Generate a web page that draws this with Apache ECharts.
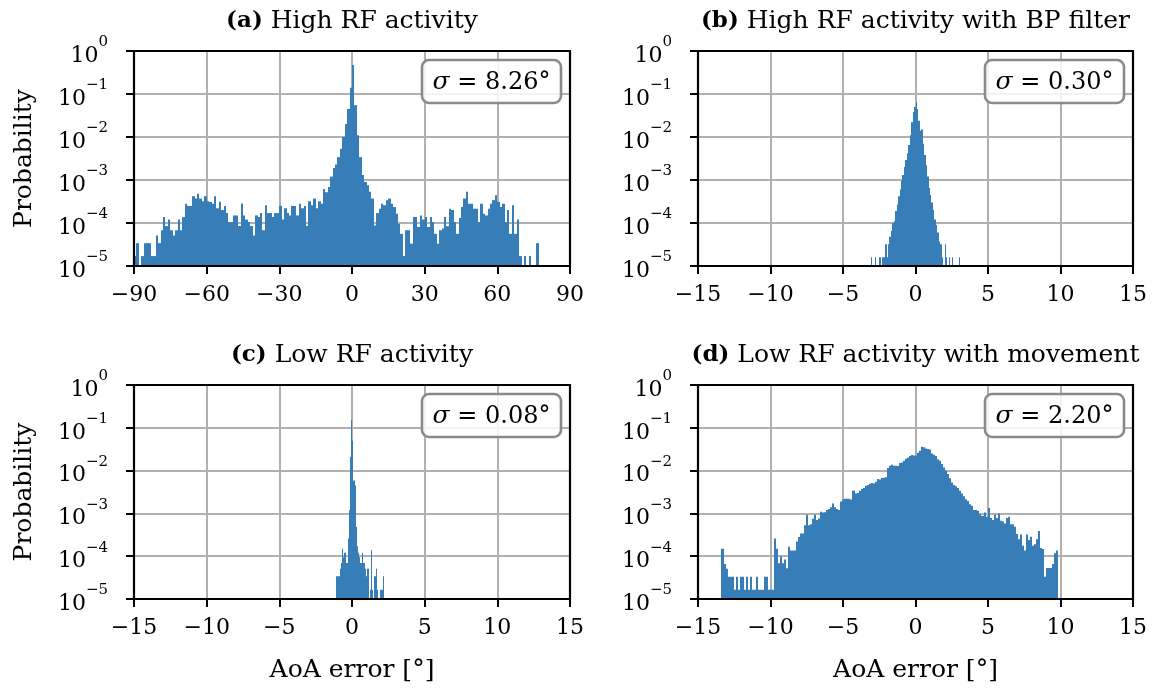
<!DOCTYPE html>
<html>
<head>
<meta charset="utf-8">
<script src="https://cdn.jsdelivr.net/npm/echarts@6/dist/echarts.min.js"></script>
<style>html,body{margin:0;padding:0;background:#fff}#chart{width:1153px;height:691px}</style>
</head>
<body>
<div id="chart"></div>
<script>
// ---------------- data ----------------
const tags = ['(a)', '(b)', '(c)', '(d)'];
const titles = ['High RF activity', 'High RF activity with BP filter', 'Low RF activity', 'Low RF activity with movement'];
const sigmas = ['8.26', '0.30', '0.08', '2.20'];
const xLabel = 'AoA error [°]';
const yLabel = 'Probability';

// histogram bins: first left edge and bin width (degrees)
const binStartA = -90,   binWidthA = 1;
const binStartB = -3.1,  binWidthB = 0.1;
const binStartC = -1.1,  binWidthC = 0.08;
const binStartD = -13.38, binWidthD = 0.139;

// probabilities per bin
const probA = [
  1.7e-5, 3.4e-5, 0, 1.7e-5, 3.4e-5, 3.4e-5, 3.4e-5, 1.7e-5, 1.7e-5, 5.1e-5,
  3.4e-5, 6.8e-5, 1.37e-4, 8.5e-5, 1.2e-4, 6.8e-5, 5.1e-5, 6.8e-5, 1.2e-4, 6.8e-5,
  1.37e-4, 2.8e-4, 2.5e-4, 2.5e-4, 4.2e-4, 3.7e-4, 4.8e-4, 3.7e-4, 3.2e-4, 4.2e-4,
  3.2e-4, 3.1e-4, 2.8e-4, 4.2e-4, 2.2e-4, 3.1e-4, 2.0e-4, 2.5e-4, 1.7e-4, 1.05e-4,
  1.05e-4, 1.5e-4, 1.5e-4, 8.5e-5, 2.85e-4, 1.5e-4, 1.2e-4, 1.05e-4, 8.5e-5, 5.1e-5,
  1.5e-4, 1.37e-4, 1.7e-4, 6.8e-5, 2.6e-4, 1.7e-4, 1.7e-4, 1.37e-4, 1.7e-4, 1.7e-4,
  2.5e-4, 1.2e-4, 2.2e-4, 1.7e-4, 1.5e-4, 2.5e-4, 2.5e-4, 1.5e-4, 2.8e-4, 2.2e-4,
  2.5e-4, 8.5e-5, 3.2e-4, 2.6e-4, 3.7e-4, 2.2e-4, 3.2e-4, 2.8e-4, 6.2e-4, 5.2e-4,
  6.9e-4, 1.2e-3, 1.9e-3, 2.3e-3, 3.4e-3, 5.3e-3, 1.0e-2, 2.0e-2, 4.5e-2, 0.14,
  0.47, 0.055, 0.011, 3.4e-3, 1.3e-3, 9e-4, 7.5e-4, 5.3e-4, 3.7e-4, 8.8e-5,
  1.7e-4, 2.15e-4, 2.8e-4, 2.6e-4, 3.4e-4, 3.7e-4, 2.8e-4, 2.35e-4, 1.65e-4, 9.6e-5,
  5.6e-5, 1.7e-5, 6.8e-5, 6.8e-5, 3.3e-5, 1.37e-4, 1.37e-4, 8.1e-5, 1.5e-4, 1.2e-4,
  1.37e-4, 8.1e-5, 1.37e-4, 1.05e-4, 5.6e-5, 3.3e-5, 6.8e-5, 7.4e-5, 1.37e-4, 8.4e-5,
  2.15e-4, 2.0e-4, 1.05e-4, 5.6e-5, 1.3e-4, 2.35e-4, 3.7e-4, 5.3e-4, 2.8e-4, 2.8e-4,
  2.15e-4, 2.15e-4, 1.05e-4, 2.8e-4, 1.65e-4, 1.5e-4, 2.15e-4, 2.8e-4, 3.4e-4, 4.4e-4,
  3.1e-4, 2.35e-4, 2.8e-4, 1.05e-4, 2.0e-4, 5.6e-5, 2.6e-4, 5.6e-5, 1.2e-4, 1.7e-5,
  0, 1.7e-5, 0, 1.7e-5, 0, 0, 3.4e-5
];
const probB = [
  1.6e-5, 0, 0, 1.6e-5, 0, 0, 1.6e-5, 0, 1.6e-5, 1.6e-5,
  3.2e-5, 1.6e-5, 3.2e-5, 4.8e-5, 6.5e-5, 1.0e-4, 1.1e-4, 1.9e-4, 2.7e-4, 4.2e-4,
  6.0e-4, 9.5e-4, 1.3e-3, 2.0e-3, 2.9e-3, 4.2e-3, 6.5e-3, 1.1e-2, 2.2e-2, 3.8e-2,
  5.0e-2, 6.5e-2, 4.5e-2, 2.4e-2, 1.4e-2, 1.5e-2, 7.0e-3, 3.8e-3, 2.2e-3, 1.2e-3,
  6.5e-4, 4.5e-4, 3.0e-4, 2.0e-4, 1.2e-4, 9.0e-5, 6.0e-5, 3.7e-5, 3.2e-5, 1.6e-5,
  0, 3.2e-5, 1.6e-5, 0, 1.6e-5, 0, 1.6e-5, 0, 0, 0,
  0, 1.6e-5
];
const probC = [
  3.4e-5, 3.4e-5, 3.4e-5, 5.1e-5, 6.9e-5, 1.5e-4, 9.5e-5, 1.2e-4, 1.2e-4, 6.9e-5,
  2.6e-4, 1.2e-3, 2.1e-2, 0.15, 5e-2, 5.9e-3, 4.5e-3, 4.8e-4, 1.7e-4, 1.2e-4,
  9.5e-5, 6.9e-5, 1.2e-4, 6.9e-5, 6.9e-5, 5.1e-5, 3.4e-5, 5.1e-5, 0, 1.65e-5,
  1.4e-4, 1.65e-5, 0, 3.4e-5, 5.1e-5, 1.65e-5, 0, 0, 1.65e-5, 1.65e-5,
  3.4e-5, 0
];
const probD = [
  1.5e-4, 6.6e-5, 5.1e-5, 3.3e-5, 3.3e-5, 3.3e-5, 1.65e-5, 3.3e-5, 1.65e-5, 3.3e-5,
  3.3e-5, 1.65e-5, 3.3e-5, 1.65e-5, 3.3e-5, 1.65e-5, 1.65e-5, 3.3e-5, 1.65e-5, 1.65e-5,
  1.65e-5, 3.3e-5, 3.3e-5, 1.65e-5, 1.65e-5, 1.65e-5, 2.6e-4, 1.5e-4, 6.8e-5, 1.0e-4,
  6.8e-5, 8.4e-5, 5.2e-5, 1.66e-4, 1.35e-4, 1.35e-4, 1.35e-4, 2.2e-4, 2.8e-4, 3.4e-4,
  3.4e-4, 5.3e-4, 9.3e-4, 5.3e-4, 5.6e-4, 7.5e-4, 9.3e-4, 7.0e-4, 7.6e-4, 1.1e-3,
  1.05e-3, 1.07e-3, 1.2e-3, 1.26e-3, 1.4e-3, 1.7e-3, 1.4e-3, 1.26e-3, 1.2e-3, 1.9e-3,
  2.1e-3, 2.2e-3, 2.2e-3, 2.2e-3, 2.1e-3, 3.4e-3, 2.9e-3, 3.0e-3, 3.4e-3, 3.7e-3,
  3.9e-3, 4.4e-3, 4.6e-3, 4.9e-3, 5.1e-3, 5.0e-3, 5.5e-3, 6.4e-3, 6.2e-3, 6.7e-3,
  6.8e-3, 7.0e-3, 1.15e-2, 1.3e-2, 1.37e-2, 1.3e-2, 1.3e-2, 1.28e-2, 1.5e-2, 1.55e-2,
  1.7e-2, 1.9e-2, 2.0e-2, 2.2e-2, 2.3e-2, 2.25e-2, 2.25e-2, 2.6e-2, 2.9e-2, 3.6e-2,
  3.5e-2, 3.3e-2, 3.2e-2, 3.1e-2, 2.5e-2, 2.35e-2, 2.2e-2, 1.85e-2, 1.7e-2, 1.42e-2,
  1.18e-2, 9.9e-3, 8.3e-3, 6.6e-3, 5.3e-3, 4.6e-3, 4.3e-3, 3.9e-3, 3.4e-3, 2.9e-3,
  2.5e-3, 2.15e-3, 1.96e-3, 1.64e-3, 1.5e-3, 1.2e-3, 1.2e-3, 1.15e-3, 9.6e-4, 8.8e-4,
  1.05e-3, 8.4e-4, 1.33e-3, 7.8e-4, 7.0e-4, 9.3e-4, 7.8e-4, 1.0e-3, 6.7e-4, 6.5e-4,
  5.8e-4, 7.8e-4, 8.4e-4, 5.6e-4, 5.6e-4, 4.9e-4, 3.3e-4, 2.5e-4, 3.2e-4, 1.75e-4,
  1.35e-4, 3.2e-4, 2.4e-4, 2.85e-4, 1.75e-4, 1.9e-4, 2.5e-4, 3.9e-4, 1.55e-4, 1.47e-4,
  3.3e-5, 5.3e-5, 5.3e-5, 5.3e-5, 6.6e-5, 1.17e-4, 1.35e-4
];

// axis ranges / ticks
const xRangeWide = [-90, 90], xStepWide = 30;
const xRangeNarrow = [-15, 15], xStepNarrow = 5;
const yRange = [1e-5, 1];

// ---------------- layout / style ----------------
const FONT = '"DejaVu Serif", serif';
const BAR = '#377eb8';
const GRID = '#b0b0b0';
const grids = [
  {left: 134, top: 51, width: 436, height: 215},
  {left: 698, top: 51, width: 435, height: 215},
  {left: 134, top: 385, width: 436, height: 214},
  {left: 698, top: 385, width: 435, height: 214}
];
const panels = [
  {start: binStartA, w: binWidthA, p: probA, range: xRangeWide, step: xStepWide},
  {start: binStartB, w: binWidthB, p: probB, range: xRangeNarrow, step: xStepNarrow},
  {start: binStartC, w: binWidthC, p: probC, range: xRangeNarrow, step: xStepNarrow},
  {start: binStartD, w: binWidthD, p: probD, range: xRangeNarrow, step: xStepNarrow}
];

const minus = v => (v < 0 ? '\u2212' + Math.abs(v) : String(v));

const xAxes = [], yAxes = [], series = [], graphics = [];
panels.forEach((pn, i) => {
  const g = grids[i];
  xAxes.push({
    gridIndex: i, type: 'value', min: pn.range[0], max: pn.range[1], interval: pn.step,
    axisLine: {show: false, onZero: false},
    axisTick: {show: true, length: 8, lineStyle: {color: '#000', width: 2}},
    axisLabel: {show: true, margin: 18, color: '#000', fontFamily: FONT, fontSize: 22,
      showMinLabel: true, showMaxLabel: true, formatter: v => minus(v)},
    splitLine: {show: true, lineStyle: {color: GRID, width: 2}},
    name: i >= 2 ? xLabel : '', nameLocation: 'middle', nameGap: 59,
    nameTextStyle: {color: '#000', fontFamily: FONT, fontSize: 25}
  });
  yAxes.push({
    gridIndex: i, type: 'log', logBase: 10, min: yRange[0], max: yRange[1],
    axisLine: {show: false, onZero: false},
    axisTick: {show: true, length: 8, lineStyle: {color: '#000', width: 2}},
    minorTick: {show: false},
    axisLabel: {
      show: true, margin: 26, color: '#000',
      formatter: v => {
        const e = Math.round(Math.log10(v));
        return '{b|10}{s|' + minus(e) + '}';
      },
      rich: {
        b: {fontFamily: FONT, fontSize: 22, color: '#000', lineHeight: 32, verticalAlign: 'bottom'},
        s: {fontFamily: FONT, fontSize: 15, color: '#000', lineHeight: 16, verticalAlign: 'top'}
      }
    },
    splitLine: {show: true, lineStyle: {color: GRID, width: 2}},
    name: i % 2 === 0 ? yLabel : '', nameLocation: 'middle', nameGap: 97, nameRotate: 90,
    nameTextStyle: {color: '#000', fontFamily: FONT, fontSize: 25}
  });
  const data = [];
  pn.p.forEach((v, k) => {
    if (v > 0) {
      const x0 = pn.start + k * pn.w;
      data.push([x0, x0 + pn.w, v]);
    }
  });
  series.push({
    type: 'custom', xAxisIndex: i, yAxisIndex: i, coordinateSystem: 'cartesian2d',
    encode: {x: [0, 1], y: 2}, data: data, z: 3, silent: true,
    renderItem: (params, api) => {
      const a = api.coord([api.value(0), api.value(2)]);
      const b = api.coord([api.value(1), yRange[0]]);
      const xl = Math.round(a[0]), xr = Math.max(Math.round(b[0]), xl + 1);
      return {type: 'rect', shape: {x: xl, y: a[1], width: xr - xl, height: b[1] - a[1]},
        style: {fill: BAR}};
    }
  });
  // frame around plot area
  series.push({
    type: 'custom', xAxisIndex: i, yAxisIndex: i, coordinateSystem: 'cartesian2d',
    encode: {x: 0, y: 1},
    data: [[pn.range[0], yRange[1]]], z: 8, silent: true, clip: false,
    renderItem: (params) => {
      const c = params.coordSys;
      return {type: 'rect', shape: {x: c.x, y: c.y, width: c.width, height: c.height},
        style: {fill: 'none', stroke: '#000', lineWidth: 2.2}};
    }
  });
  // panel title
  graphics.push({
    type: 'text', x: g.left + g.width / 2, y: g.top - 30, z: 20,
    style: {
      text: '{t|' + tags[i] + '}{n| ' + titles[i] + '}',
      align: 'center', verticalAlign: 'middle', textAlign: 'center', textVerticalAlign: 'middle',
      rich: {
        t: {fontFamily: FONT, fontSize: 23, fontWeight: 'bold', fill: '#000'},
        n: {fontFamily: FONT, fontSize: 25, fill: '#000'}
      }
    }
  });
  // sigma box
  const bw = 139, bh = 43;
  const bx = g.left + g.width - 9 - bw, by = g.top + 9;
  graphics.push({
    type: 'rect', z: 20, shape: {x: bx, y: by, width: bw, height: bh, r: 7},
    style: {fill: 'rgba(255,255,255,0.85)', stroke: '#8a8a8a', lineWidth: 2.6}
  });
  graphics.push({
    type: 'text', x: bx + bw / 2, y: by + bh / 2 + 1, z: 21,
    style: {
      text: '{i|σ}{n| = ' + sigmas[i] + '°}',
      align: 'center', verticalAlign: 'middle', textAlign: 'center', textVerticalAlign: 'middle',
      rich: {
        i: {fontFamily: FONT, fontSize: 25, fontStyle: 'italic', fill: '#000'},
        n: {fontFamily: FONT, fontSize: 24, fill: '#000'}
      }
    }
  });
});

const chart = echarts.init(document.getElementById('chart'), null, {renderer: 'canvas'});
chart.setOption({
  animation: false,
  backgroundColor: '#fff',
  grid: grids.map(g => Object.assign({containLabel: false}, g)),
  xAxis: xAxes,
  yAxis: yAxes,
  series: series,
  graphic: graphics
});
</script>
</body>
</html>
